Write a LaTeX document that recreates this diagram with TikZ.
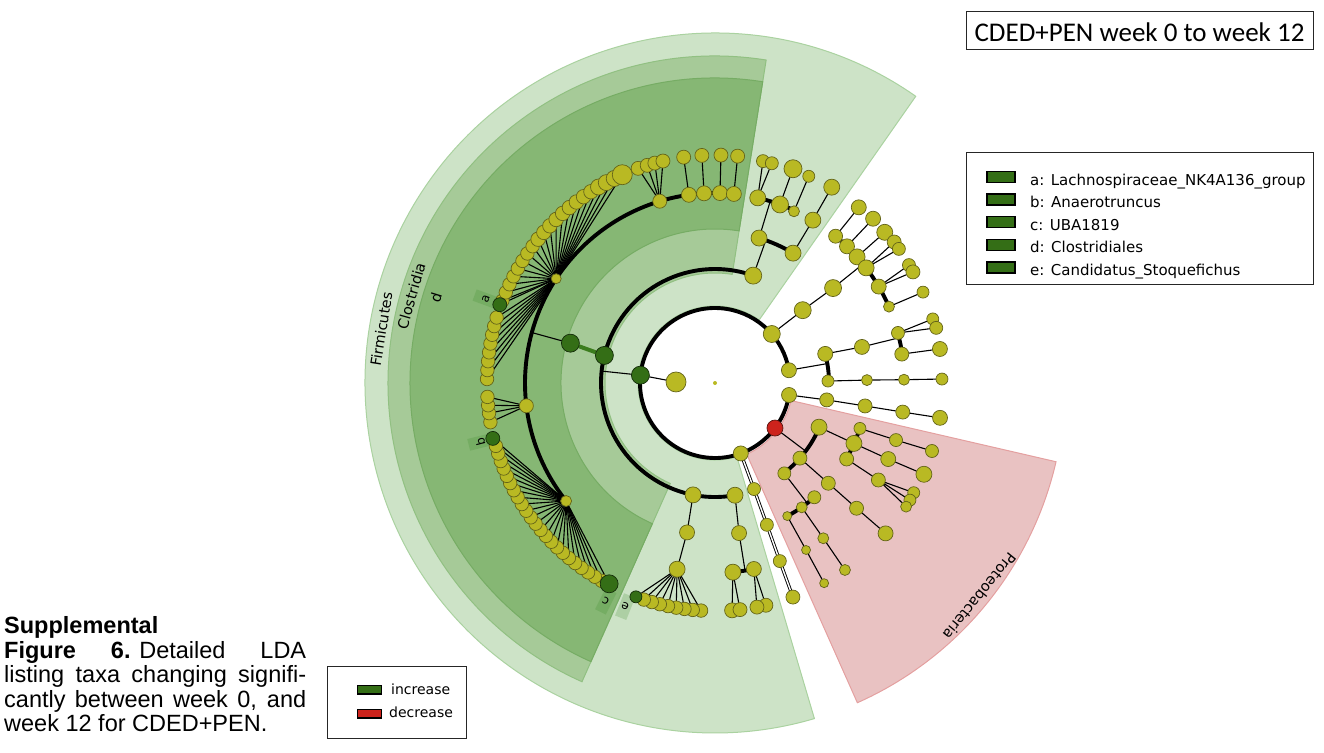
\documentclass[tikz,border=0pt]{standalone}
\usepackage{fontspec}
\setmainfont{Liberation Sans}
\newfontfamily\djv{DejaVu Sans}
\newfontfamily\crl{Carlito}
\pgfdeclarelayer{wedges}
\pgfdeclarelayer{edges}
\pgfsetlayers{wedges,edges,main}
\definecolor{olvfill}{RGB}{185,185,35}
\definecolor{olvdraw}{RGB}{100,100,25}
\definecolor{grnfill}{RGB}{52,110,22}
\definecolor{grndraw}{RGB}{20,45,10}
\definecolor{grnline}{RGB}{60,125,30}
\definecolor{redfill}{RGB}{205,35,28}
\definecolor{reddraw}{RGB}{90,20,15}
\definecolor{firmc}{RGB}{205,227,199}
\definecolor{firmb}{RGB}{170,210,160}
\definecolor{closc}{RGB}{166,202,152}
\definecolor{closb}{RGB}{145,192,130}
\definecolor{dcol}{RGB}{134,183,116}
\definecolor{dbord}{RGB}{118,172,100}
\definecolor{pinkc}{RGB}{233,194,194}
\definecolor{pinkb}{RGB}{228,160,160}
\tikzset{
  nd/.style={circle, inner sep=0pt, outer sep=0pt, line width=0.7pt, minimum size=#1},
  olv/.style={nd=#1, fill=olvfill, draw=olvdraw}, olv/.default=14pt,
  grn/.style={nd=#1, fill=grnfill, draw=grndraw}, grn/.default=14pt,
  rd/.style={nd=#1, fill=redfill, draw=reddraw}, rd/.default=16pt,
  arcl/.style={line width=3.9pt},
  br/.style={line width=1.1pt},
  dbl/.style={line width=0.9pt, double=white, double distance=1.4pt},
  lbltxt/.style={font=\djv\fontsize{14.5}{17}\selectfont, inner sep=0pt},
  lblbox/.style={font=\djv\fontsize{12}{14}\selectfont, inner sep=0pt, minimum width=12pt, minimum height=24pt, fill={rgb,255:red,60;green,140;blue,40}, fill opacity=0.22, text opacity=1},
  legtxt/.style={font=\djv\fontsize{15}{18}\selectfont, anchor=base west, inner sep=0pt},
  capt/.style={font=\fontsize{23.5}{24.5}\selectfont, anchor=base west, inner sep=0pt}
}
\begin{document}
\begin{tikzpicture}[x=1pt,y=-1pt]
\useasboundingbox (0,0) rectangle (1324,752);
\begin{scope}[shift={(715,383)}]
% ---------------- wedges and their labels
\begin{pgfonlayer}{wedges}
\path[fill=firmc, draw=firmb, line width=1pt] (73.5:77) arc[start angle=73.5, end angle=305, radius=77] -- (305:350) arc[start angle=305, end angle=73.5, radius=350] -- cycle;
\path[fill=closc, draw=closb, line width=1pt] (114:110) arc[start angle=114, end angle=279, radius=110] -- (279:327) arc[start angle=279, end angle=114, radius=327] -- cycle;
\path[fill=dcol, draw=dbord, line width=1pt] (114:154) arc[start angle=114, end angle=279, radius=154] -- (279:305) arc[start angle=279, end angle=114, radius=305] -- cycle;
\path[fill=pinkc, draw=pinkb, line width=1pt] (13:78) arc[start angle=13, end angle=66, radius=78] -- (66:350) arc[start angle=66, end angle=13, radius=350] -- cycle;
\node[lbltxt, rotate=80.8] (tFirm) at (189.2:338) {Firmicutes};
\node[lbltxt, rotate=74] (tClos) at (196:316) {Clostridia};
\node[lbltxt, rotate=73] (tD) at (197:292) {d};
\node[lbltxt, rotate=-129] (tProt) at (38.9:340) {Proteobacteria};
\node[lblbox, rotate=69.9] (la) at (200.1:244) {a};
\node[lblbox, rotate=104.1] (lb) at (165.9:242) {b};
\node[lblbox, rotate=153.4] (lc) at (116.6:244) {c};
\node[lblbox, rotate=158.1] (le) at (111.9:241) {e};
\end{pgfonlayer}
% ---------------- nodes
\node[olv=4pt, draw=none] (root) at (0,0) {};
\node[olv=20pt] (inn) at (181.5:39) {};
\node[grn=18pt] (firm) at (186:75) {};
\node[olv=17pt] (q1) at (319.2:75) {};
\node[olv=15pt] (q2) at (350.2:75) {};
\node[olv=15pt] (q3) at (9.2:75) {};
\node[rd=16pt] (prot) at (36.9:75) {};
\node[olv=15pt] (z1) at (69.9:75) {};
% Firmicutes
\coordinate (jfirm) at (186:114);
\node[olv=16pt] (k1) at (79.9:114) {};
\node[olv=16pt] (k2) at (101.1:114) {};
\node[grn=18pt] (clos) at (194:114) {};
\node[olv=17pt] (k3) at (289.6:114) {};
\node[olv=15pt] (k1o) at (80.9:152) {};
\coordinate (jk1o) at (80.9:190);
\node[olv=15pt] (k1f1) at (78.2:190) {};
\node[olv=16pt] (k1f2) at (84.6:190) {};
\node[olv=14pt] (k1g1) at (77.1:228) {};
\node[olv=14pt] (k1g2) at (79.4:228) {};
\node[olv=15pt] (k1g4) at (85.7:228) {};
\node[olv=14pt] (k1g3) at (83.7:228) {};
\node[olv=15pt] (k2o) at (100.6:152) {};
\node[olv=16pt] (k2f) at (101.5:190) {};
\foreach \i in {0,...,7} {\pgfmathsetmacro\ang{93.5+\i*2.1}\node[olv=13.5pt] (k2l\i) at (\ang:228) {};}
\node[grn=12pt] (e) at (110.3:228) {};
% Clostridiales
\node[grn=18pt] (d) at (195.4:150) {};
\coordinate (jd) at (195.4:190);
\node[olv=11pt] (F1) at (141.6:190) {};
\node[olv=14pt] (F2) at (173.1:190) {};
\node[olv=10pt] (F3) at (213.3:190) {};
\node[olv=14pt] (F4) at (253.1:190) {};
\foreach \a [count=\k] in {262.1,266.7,271.5,275.7} {\node[olv=15pt] (G\k) at (\a:190) {}; \node[olv=14pt] (H\k) at (\a:228) {};}
\foreach \i in {1,...,23} {\pgfmathsetmacro\ang{117.8+\i*48.2/24}\node[olv=13.5pt] (f1l\i) at (\ang:228) {};}
\node[grn=18pt] (c) at (117.8:227) {};
\node[grn=14pt] (b) at (166:229) {};
\foreach \a [count=\k] in {170.1,172.4,174.4,176.5} {\node[olv=13.5pt] (f2l\k) at (\a:228) {};}
\foreach \i in {0,...,29} {\ifnum\i=8\relax\else
  \pgfmathsetmacro\ang{181+\i*65/29}%
  \pgfmathsetmacro\sz{\i==29?20:(\i>25?16:(\i>16?14.5:13.5))}%
  \node[olv=\sz pt] (f3l\i) at (\ang:228) {};\fi}
\node[grn=14pt] (a) at (200:229) {};
\foreach \a [count=\k] in {250.3,252.7,254.7,256.8} {\node[olv=14pt] (f4l\k) at (\a:228) {};}
% upper Firmicutes class
\coordinate (jk3) at (289.6:151.5);
\node[olv=16pt] (k3o1) at (286.9:151.5) {};
\node[olv=16pt] (k3o2) at (301:151.5) {};
\coordinate (jk3o1) at (286.9:190);
\node[olv=16pt] (k3f1) at (283:190) {};
\node[olv=17pt] (k3f2) at (290:190) {};
\node[olv=11pt] (k3f3) at (294.7:189) {};
\node[olv=13pt] (k3g1) at (282.2:227) {};
\node[olv=13pt] (k3g2) at (284.5:227) {};
\node[olv=18pt] (k3g3) at (290:228) {};
\node[olv=12pt] (k3g4) at (294.4:227) {};
\node[olv=16pt] (k3f4) at (301:190) {};
\node[olv=16pt] (k3g5) at (300.8:228) {};
% phylum q1
\node[olv=17pt] (q1a) at (320.3:114) {};
\node[olv=17pt] (q1b) at (321.2:151.5) {};
\coordinate (jq1) at (321.2:190);
\foreach \a/\s [count=\k] in {309.4/14,314/15,318.4/16,322.7/16,329.5/15,336.3/11} {\node[olv=\s pt] (q1f\k) at (\a:190) {};}
\node[olv=15pt] (q1g1) at (309.3:227) {};
\node[olv=15pt] (q1g2) at (313.9:228) {};
\node[olv=16pt] (q1g3) at (318.4:227) {};
\node[olv=14pt] (q1g4) at (321.8:228) {};
\node[olv=13pt] (q1g5) at (323.9:227.6) {};
\node[olv=13pt] (q1g6) at (328.7:227) {};
\node[olv=14pt] (q1g7) at (330.7:227) {};
\node[olv=12pt] (q1g8) at (336.4:227) {};
% phylum q2
\coordinate (jq2) at (350.2:114);
\node[olv=15pt] (q2a) at (345.2:114) {};
\node[olv=12pt] (q2b) at (359:113) {};
\node[olv=15pt] (q2c) at (346.2:151.3) {};
\coordinate (jq2c) at (346.2:189.5);
\node[olv=13pt] (q2f1) at (344.7:189.7) {};
\node[olv=14pt] (q2f2) at (351.2:189) {};
\node[olv=12pt] (q2g1) at (343.6:227) {};
\node[olv=13pt] (q2g2) at (346:228) {};
\node[olv=15pt] (q2g3) at (351.4:227.5) {};
\node[olv=11pt] (q2d) at (358.9:152) {};
\node[olv=11pt] (q2e) at (359:189) {};
\node[olv=12pt] (q2h) at (359:227) {};
% phylum q3
\node[olv=14pt] (q3a) at (8.6:113) {};
\node[olv=14pt] (q3b) at (8.7:151.8) {};
\node[olv=14pt] (q3c) at (8.8:190) {};
\node[olv=15pt] (q3d) at (8.8:227.7) {};
% Proteobacteria
\coordinate (jprot) at (36.9:113.4);
\node[olv=16pt] (pA) at (23:113) {};
\node[olv=14pt] (pK) at (41.5:113.4) {};
\node[olv=13pt] (pL) at (52.5:113.9) {};
\node[olv=12pt] (pB) at (17.4:151.9) {};
\node[olv=16pt] (pC) at (23.5:151.5) {};
\node[olv=14pt] (pF) at (30:152) {};
\node[olv=13pt] (pD) at (17.5:189.8) {};
\node[olv=13pt] (pG) at (17.4:227.4) {};
\node[olv=15pt] (pE) at (23.7:189.2) {};
\node[olv=16pt] (pH) at (23.6:228) {};
\node[olv=14pt] (pI) at (30.7:190) {};
\node[olv=12pt] (pJ1) at (28.9:227) {};
\node[olv=12pt] (pJ2) at (31:227.4) {};
\node[olv=11pt] (pJ3) at (32.9:227.6) {};
\node[olv=14pt] (pM) at (41.5:151.3) {};
\node[olv=14pt] (pN) at (41.5:189) {};
\node[olv=15pt] (pO) at (41.4:227.4) {};
\coordinate (jpL) at (52.5:151.5);
\node[olv=13pt] (pP) at (49:151.4) {};
\node[olv=11pt] (pQ) at (55.1:151.6) {};
\node[olv=9pt] (pR) at (61.5:151.4) {};
\node[olv=11pt] (pS) at (55.1:189.3) {};
\node[olv=11pt] (pU) at (55.2:227.7) {};
\node[olv=9pt] (pT) at (61.4:190.2) {};
\node[olv=9pt] (pV) at (61.4:228) {};
% phylum z
\node[olv=13pt] (z2) at (69.8:113) {};
\node[olv=13pt] (z3) at (69.9:151) {};
\node[olv=13pt] (z4) at (70:189.5) {};
\node[olv=14pt] (z5) at (70:227.8) {};
% ---------------- connectors
\begin{pgfonlayer}{edges}
\draw[arcl] (9.2:75) arc[start angle=9.2, end angle=350.2, radius=75];
\draw[br] (firm) -- (inn);
\draw[br] (firm) -- (jfirm);
\draw[arcl] (79.9:114) arc[start angle=79.9, end angle=289.6, radius=114];
\draw[br] (k1) -- (k1o) (k1o) -- (jk1o);
\draw[arcl] (78.2:190) arc[start angle=78.2, end angle=84.6, radius=190];
\draw[br] (k1f1) -- (k1g1) (k1f1) -- (k1g2) (k1f2) -- (k1g3) (k1f2) -- (k1g4);
\draw[br] (k2) -- (k2o) (k2o) -- (k2f);
\foreach \i in {0,...,7} {\draw[br] (k2f) -- (k2l\i);}
\draw[br] (k2f) -- (e);
\draw[line width=4pt, grnline] (clos) -- (d);
\draw[br] (d) -- (jd);
\draw[arcl] (141.6:190) arc[start angle=141.6, end angle=275.7, radius=190];
\foreach \i in {1,...,23} {\draw[br] (F1) -- (f1l\i);}
\draw[br] (F1) -- (c) (F1) -- (b);
\foreach \k in {1,...,4} {\draw[br] (F2) -- (f2l\k); \draw[br] (F4) -- (f4l\k); \draw[br] (G\k) -- (H\k);}
\foreach \i in {0,...,29} {\ifnum\i=8\relax\else\draw[br] (F3) -- (f3l\i);\fi}
\draw[br] (F3) -- (a);
\draw[br] (k3) -- (jk3);
\draw[arcl] (286.9:151.5) arc[start angle=286.9, end angle=301, radius=151.5];
\draw[br] (k3o1) -- (jk3o1);
\draw[arcl] (283:190) arc[start angle=283, end angle=294.7, radius=190];
\draw[br] (k3f1) -- (k3g1) (k3f1) -- (k3g2) (k3f2) -- (k3g3) (k3f3) -- (k3g4) (k3o2) -- (k3f4) (k3f4) -- (k3g5);
\draw[br] (q1) -- (q1a) (q1a) -- (q1b) (q1b) -- (jq1);
\draw[arcl] (309.4:190) arc[start angle=309.4, end angle=336.3, radius=190];
\draw[br] (q1f1) -- (q1g1) (q1f2) -- (q1g2) (q1f3) -- (q1g3) (q1f4) -- (q1g4) (q1f4) -- (q1g5) (q1f5) -- (q1g6) (q1f5) -- (q1g7) (q1f6) -- (q1g8);
\draw[br] (q2) -- (jq2);
\draw[arcl] (345.2:114) arc[start angle=345.2, end angle=359, radius=114];
\draw[br] (q2a) -- (q2c) (q2c) -- (jq2c);
\draw[arcl] (344.7:189.5) arc[start angle=344.7, end angle=351.2, radius=189.5];
\draw[br] (q2f1) -- (q2g1) (q2f1) -- (q2g2) (q2f2) -- (q2g3) (q2b) -- (q2d) (q2d) -- (q2e) (q2e) -- (q2h);
\draw[br] (q3) -- (q3a) (q3a) -- (q3b) (q3b) -- (q3c) (q3c) -- (q3d);
\draw[br] (prot) -- (jprot);
\draw[arcl] (23:113.4) arc[start angle=23, end angle=52.5, radius=113.4];
\draw[br] (pA) -- (pC);
\draw[arcl] (17.4:151.7) arc[start angle=17.4, end angle=30, radius=151.7];
\draw[br] (pB) -- (pD) (pD) -- (pG) (pC) -- (pE) (pE) -- (pH) (pF) -- (pI) (pI) -- (pJ1) (pI) -- (pJ2) (pI) -- (pJ3);
\draw[br] (pK) -- (pM) (pM) -- (pN) (pN) -- (pO);
\draw[br] (pL) -- (jpL);
\draw[arcl] (49:151.5) arc[start angle=49, end angle=61.5, radius=151.5];
\draw[br] (pQ) -- (pS) (pS) -- (pU) (pR) -- (pT) (pT) -- (pV);
\draw[dbl] (z1) -- (z2) (z2) -- (z3) (z3) -- (z4) (z4) -- (z5);
\end{pgfonlayer}
\end{scope}
% ---------------- title
\draw[line width=1pt, draw=black!85] (966,12) rectangle (1313,50);
\node[anchor=base, inner sep=0pt, font=\crl\fontsize{27}{30}\selectfont] (title) at (1139.5,41.5) {CDED+PEN week 0 to week 12};
% ---------------- taxa legend
\draw[line width=1pt, draw=black!85] (966,152) rectangle (1313,284);
\foreach \y/\t [count=\k] in {177/{a: Lachnospiraceae\_NK4A136\_group}, 199.6/{b: Anaerotruncus}, 222.2/{c: UBA1819}, 244.8/{d: Clostridiales}, 267.4/{e: Candidatus\_Stoquefichus}} {
  \draw[fill=grnfill, line width=1.3pt] (987,\y-5.5) rectangle (1015,\y+5.5);
  \node[legtxt] (lg\k) at (1030,\y+8) {\t};
}
% ---------------- change legend
\draw[line width=1pt, draw=black!85] (327,666) rectangle (466,738);
\draw[fill=grnfill, line width=1.2pt] (357.5,685.5) rectangle (381.5,694);
\draw[fill=redfill, line width=1.2pt] (357.5,709.5) rectangle (381.5,718);
\node[legtxt, font=\djv\fontsize{14}{17}\selectfont] (inc) at (391,694) {increase};
\node[legtxt, font=\djv\fontsize{14}{17}\selectfont] (dec) at (389,717.5) {decrease};
% ---------------- caption
\node[capt, font=\fontsize{23.5}{24.5}\selectfont\bfseries] (cap1) at (4,633.5) {Supplemental};
\node[capt] (cap2) at (4,658) {\makebox[302pt][s]{\textbf{Figure}\hfill\textbf{6.} Detailed\hfill LDA}};
\node[capt] (cap3) at (4,682.5) {\makebox[302pt][s]{listing taxa changing signifi-}};
\node[capt] (cap4) at (4,707) {\makebox[302pt][s]{cantly between week 0, and}};
\node[capt] (cap5) at (4,731.5) {week 12 for CDED+PEN.};
\end{tikzpicture}
\end{document}
